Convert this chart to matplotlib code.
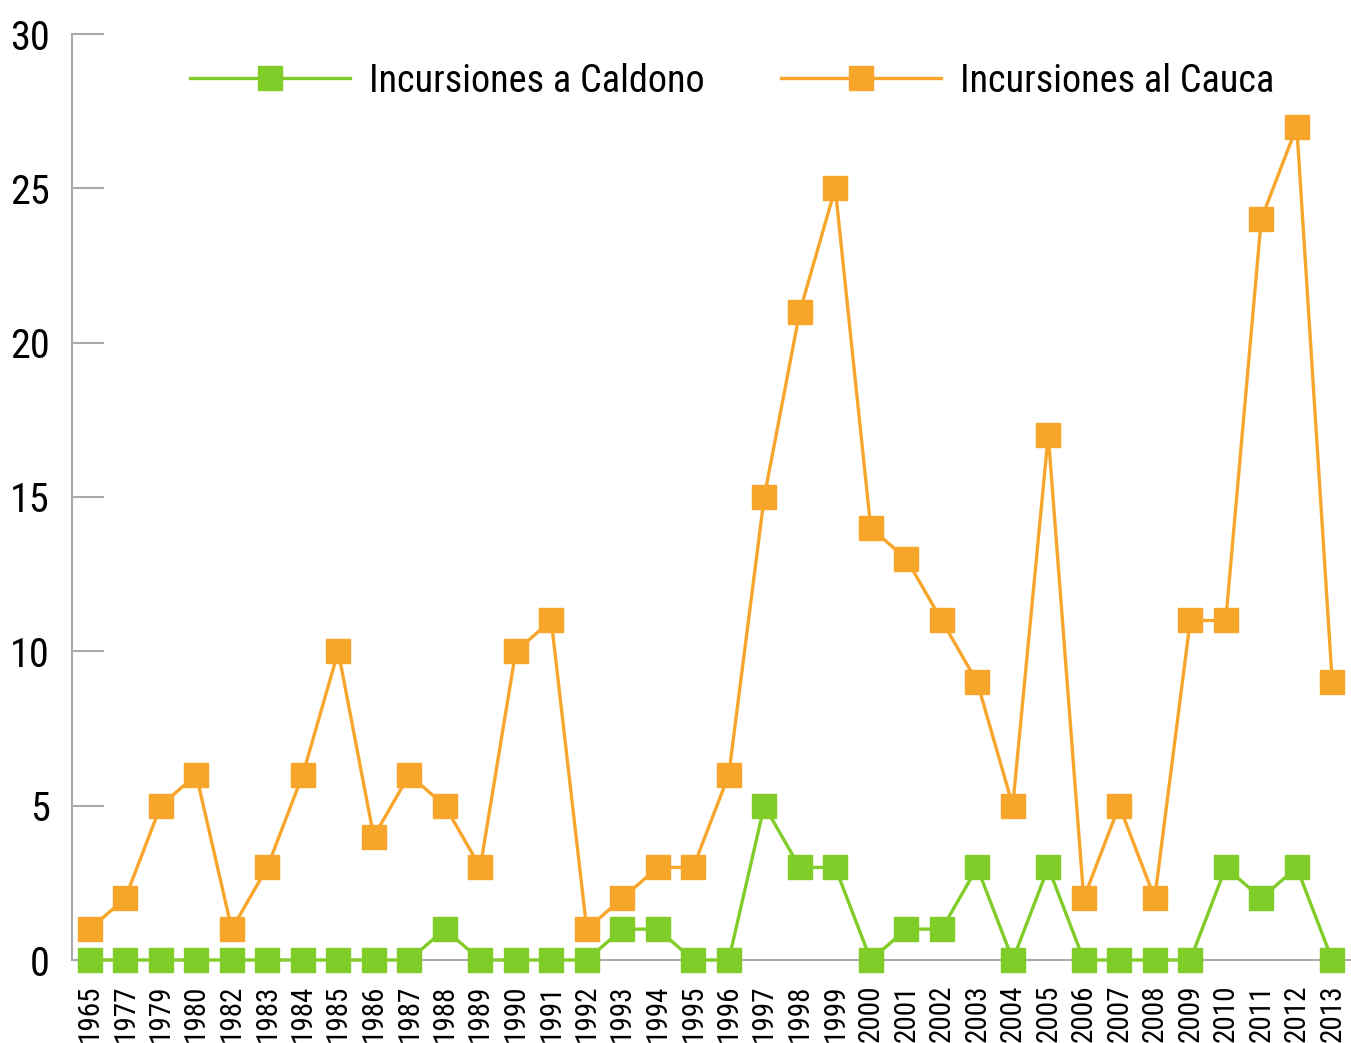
import matplotlib
matplotlib.use("Agg")
import matplotlib.pyplot as plt
import matplotlib.font_manager as fm

years = ["1965", "1977", "1979", "1980", "1982", "1983", "1984", "1985", "1986", "1987",
         "1988", "1989", "1990", "1991", "1992", "1993", "1994", "1995", "1996", "1997",
         "1998", "1999", "2000", "2001", "2002", "2003", "2004", "2005", "2006", "2007",
         "2008", "2009", "2010", "2011", "2012", "2013"]
caldono = [0, 0, 0, 0, 0, 0, 0, 0, 0, 0,
           1, 0, 0, 0, 0, 1, 1, 0, 0, 5,
           3, 3, 0, 1, 1, 3, 0, 3, 0, 0,
           0, 0, 3, 2, 3, 0]
cauca = [1, 2, 5, 6, 1, 3, 6, 10, 4, 6,
         5, 3, 10, 11, 1, 2, 3, 3, 6, 15,
         21, 25, 14, 13, 11, 9, 5, 17, 2, 5,
         2, 11, 11, 24, 27, 9]
yticks = [0, 5, 10, 15, 20, 25, 30]

names = {f.name for f in fm.fontManager.ttflist}
fam = [f for f in ["Liberation Sans Narrow", "Roboto Condensed", "Liberation Sans"] if f in names] + ["DejaVu Sans"]
plt.rcParams['font.family'] = fam

green = "#80cc28"
orange = "#f8a52b"
gray = "#aaaaaa"

fig = plt.figure(figsize=(13.51, 10.43), dpi=100)
ax = fig.add_axes([72/1351, 83/1043, 1278/1351, 926/1043])
x = list(range(len(years)))
ax.plot(x, cauca, color=orange, lw=2.4, marker='s', ms=17, mec=orange, mfc=orange,
        label="Incursiones al Cauca", clip_on=False, zorder=3)
ax.plot(x, caldono, color=green, lw=2.4, marker='s', ms=17, mec=green, mfc=green,
        label="Incursiones a Caldono", clip_on=False, zorder=4)

ax.set_xlim(-0.5, len(years) - 0.5)
ax.set_ylim(0, 30)
ax.set_yticks(yticks)
ax.set_xticks(x)
ax.set_xticklabels(years, rotation=90, fontsize=21)
ax.tick_params(axis='y', direction='in', length=23, width=1.5, color=gray, pad=16, labelsize=29)
ax.tick_params(axis='x', length=0, pad=18)
for s in ['top', 'right']:
    ax.spines[s].set_visible(False)
for s in ['left', 'bottom']:
    ax.spines[s].set_color(gray)
    ax.spines[s].set_linewidth(1.5)

h, l = ax.get_legend_handles_labels()
leg = ax.legend(h[::-1], l[::-1], loc='center', bbox_to_anchor=(0.5165, 0.949), ncol=2,
                frameon=False, fontsize=27.5, handlelength=4.19, handletextpad=0.5,
                columnspacing=2.0, borderpad=0, borderaxespad=0)

fig.savefig("out.png", dpi=100)
